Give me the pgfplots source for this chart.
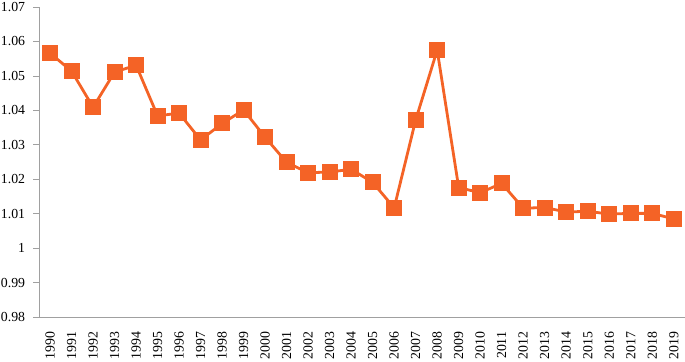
\documentclass[border=0pt]{standalone}
\usepackage{pgfplots}
\pgfplotsset{compat=1.18}
\usepackage{fontspec}
\setmainfont{Liberation Serif}
\definecolor{lineor}{RGB}{244,99,38}
\definecolor{axgray}{RGB}{160,160,160}
\begin{document}
\begin{tikzpicture}
\begin{axis}[
  name=ax,
  scale only axis,
  width=645pt, height=310pt,
  xmin=-0.5, xmax=29.5,
  ymin=0.98, ymax=1.07,
  axis x line*=bottom, axis y line*=left,
  axis line style={axgray, line width=0.8pt, -},
  xtick={0,...,29},
  xticklabels={1990,1991,1992,1993,1994,1995,1996,1997,1998,1999,2000,2001,2002,2003,2004,2005,2006,2007,2008,2009,2010,2011,2012,2013,2014,2015,2016,2017,2018,2019},
  minor xtick={-0.5,0.5,...,29.5},
  ytick={0.98,0.99,1,1.01,1.02,1.03,1.04,1.05,1.06,1.07},
  yticklabels={0.98,0.99,1,1.01,1.02,1.03,1.04,1.05,1.06,1.07},
  tick align=outside,
  tick pos=left,
  xtick style={draw=none},
  minor tick length=5pt,
  major tick length=6pt,
  every minor tick/.style={axgray, line width=0.8pt},
  ytick style={axgray, line width=0.8pt},
  xticklabel style={yshift=-8.5pt, rotate=90, anchor=east, font=\fontsize{13.8}{16}\selectfont, inner sep=0pt},
  yticklabel style={font=\fontsize{13.8}{16}\selectfont, inner sep=0pt, xshift=-8pt},
  /pgf/number format/assume math mode=true,
  clip=false,
]
\addplot[color=lineor, line width=2.8pt, mark=square*, mark size=7.5pt, mark options={fill=lineor, draw=lineor, line width=0pt}]
coordinates {
(0,1.0566)(1,1.0514)(2,1.0409)(3,1.0511)(4,1.0531)(5,1.0384)(6,1.0392)(7,1.0314)(8,1.0362)(9,1.0401)
(10,1.0322)(11,1.0249)(12,1.0219)(13,1.0221)(14,1.0229)(15,1.0191)(16,1.0117)(17,1.0372)(18,1.0575)(19,1.0176)
(20,1.0161)(21,1.0188)(22,1.0116)(23,1.0118)(24,1.0105)(25,1.0107)(26,1.0099)(27,1.0101)(28,1.0101)(29,1.0085)
};
\end{axis}
\pgfresetboundingbox
\path ([xshift=-39.3pt,yshift=-44pt]ax.south west) rectangle ([xshift=0.5pt,yshift=7pt]ax.north east);
\end{tikzpicture}
\end{document}
